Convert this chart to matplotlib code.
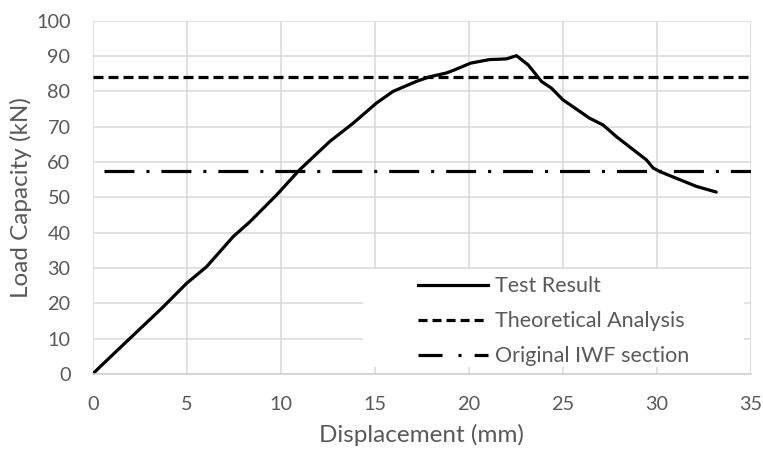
import matplotlib
matplotlib.use('Agg')
import matplotlib.pyplot as plt
from matplotlib.lines import Line2D
from matplotlib.patches import Rectangle

# data
disp = [0, 0.4, 2.16, 3.67, 5.0, 6.06, 7.47, 8.36, 9.78, 11.0, 12.6, 13.85, 15.09,
        15.97, 17.2, 17.9, 18.8, 19.2, 20.1, 21.1, 21.64, 22.0, 22.53, 23.15, 23.5,
        23.86, 24.39, 25.0, 26.42, 27.13, 27.84, 29.44, 29.8, 30.15, 31.03, 32.1, 33.15]
load = [0, 2.1, 11, 18.6, 25.7, 30.4, 38.9, 43.1, 50.7, 57.8, 65.8, 71, 76.7,
        80, 82.8, 84.1, 85.2, 86, 88, 89, 89.1, 89.2, 90.1, 87.5, 85.2,
        82.8, 80.9, 77.6, 72.4, 70.5, 67.2, 60.6, 58.3, 57.3, 55.4, 53.1, 51.5]
theory = 84.0
iwf = 57.5
x_range = [0, 35]

labels = ['Test Result', 'Theoretical Analysis', 'Original IWF section']
xticks = [0, 5, 10, 15, 20, 25, 30, 35]
yticks = [0, 10, 20, 30, 40, 50, 60, 70, 80, 90, 100]

grey = '#595959'
plt.rcParams['font.family'] = ['Lato', 'DejaVu Sans']
plt.rcParams['lines.scale_dashes'] = False

fig = plt.figure(figsize=(7.63, 4.49), dpi=100)
ax = fig.add_axes([0.1215, 0.167, 0.8628, 0.7869])

lw = 2.3
ax.plot(disp, load, color='black', lw=lw, solid_joinstyle='round', solid_capstyle='round', zorder=4)
ax.plot(x_range, [theory, theory], color='black', lw=lw, linestyle=(0, (7.2, 3.6)), zorder=3)
ax.plot(x_range, [iwf, iwf], color='black', lw=lw, linestyle=(33.1, (21.6, 8.6, 2.2, 8.6)), zorder=3)

ax.set_xlim(0, 35)
ax.set_ylim(0, 100)
ax.set_xticks(xticks)
ax.set_yticks(yticks)
ax.grid(True, color='#d9d9d9', lw=1.1)
ax.set_axisbelow(True)
for s in ['top', 'right', 'left']:
    ax.spines[s].set_visible(False)
ax.spines['bottom'].set_color('#d0d0d0')
ax.spines['bottom'].set_linewidth(1.1)
ax.spines['bottom'].set_zorder(5)
ax.tick_params(length=0, labelsize=14.3, labelcolor=grey)
ax.tick_params(axis='x', pad=16)
ax.tick_params(axis='y', pad=16)

ax.set_xlabel('Displacement (mm)', fontsize=17.5, color=grey, labelpad=8)
ax.set_ylabel('Load Capacity (kN)', fontsize=17.5, color=grey, labelpad=3)

# white legend box
ax.add_patch(Rectangle((0.4106, 0.0198), 0.579, 0.277, transform=ax.transAxes,
                       facecolor='white', edgecolor='none', zorder=2))

handles = [Line2D([], [], color='black', lw=lw),
           Line2D([], [], color='black', lw=lw, linestyle=(0, (6.5, 3.6))),
           Line2D([], [], color='black', lw=lw, linestyle=(0, (17.3, 11.5, 2.2, 9.4, 20, 5)))]
ax.legend(handles, labels, loc='upper left', bbox_to_anchor=(0.494, 0.277),
          frameon=False, fontsize=15.5, labelcolor=grey, borderpad=0, borderaxespad=0,
          handlelength=3.25, handletextpad=0.33, labelspacing=0.7)

fig.savefig('out.png', dpi=100)
